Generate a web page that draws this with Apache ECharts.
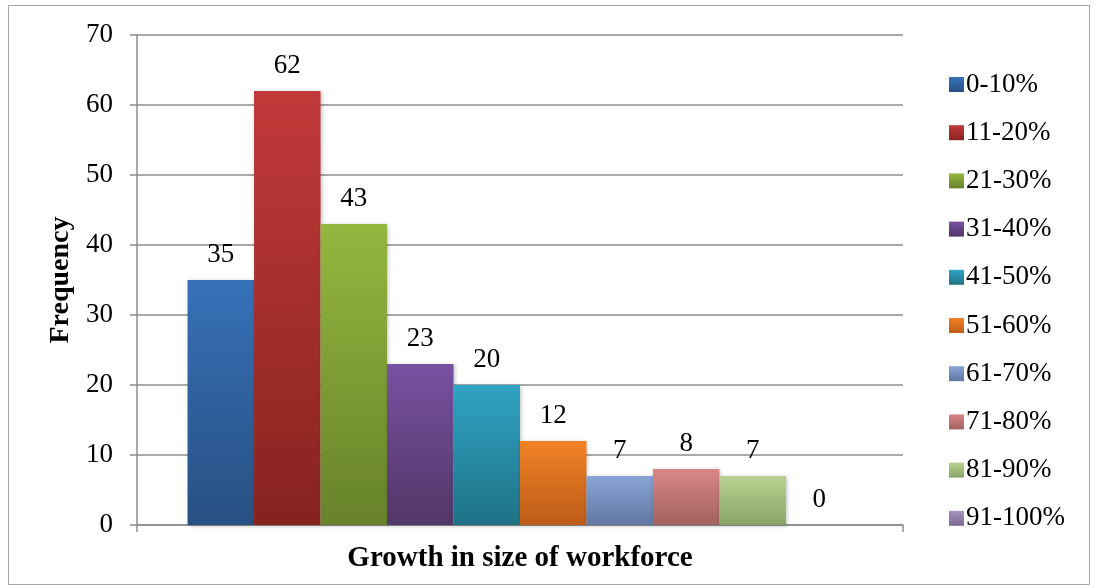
<!DOCTYPE html>
<html>
<head>
<meta charset="utf-8">
<script src="https://cdn.jsdelivr.net/npm/echarts@6/dist/echarts.min.js"></script>
<style>
  html, body { margin: 0; padding: 0; background: #ffffff; }
  #chart { width: 1096px; height: 588px; }
</style>
</head>
<body>
<div id="chart"></div>
<script>
// Frequency of growth in workforce size, by growth band
const bands = ['0-10%', '11-20%', '21-30%', '31-40%', '41-50%', '51-60%', '61-70%', '71-80%', '81-90%', '91-100%'];
const frequencies = [35, 62, 43, 23, 20, 12, 7, 8, 7, 0];
const yTicks = { min: 0, max: 70, step: 10 };

// Top / bottom shades for each band's gradient fill
const topShades = ['#3671b8', '#c2393a', '#94b73f', '#7851a2', '#2fa3c3', '#f28125', '#88a4d6', '#d98786', '#b9d290', '#a893c4'];
const bottomShades = ['#284f82', '#86231f', '#67822a', '#513766', '#1e7286', '#bd5d18', '#6277a2', '#a26260', '#89a368', '#7a6a8f'];

const serif = "'Liberation Serif', 'Times New Roman', serif";

const series = bands.map((name, i) => ({
  name: name,
  type: 'bar',
  data: [frequencies[i]],
  barGap: '0%',
  barCategoryGap: '13.2%',
  itemStyle: {
    color: new echarts.graphic.LinearGradient(0, 0, 0, 1, [
      { offset: 0, color: topShades[i] },
      { offset: 1, color: bottomShades[i] }
    ]),
    shadowColor: 'rgba(0,0,0,0.25)',
    shadowBlur: 4,
    shadowOffsetX: 1,
    shadowOffsetY: 1
  },
  label: {
    show: true,
    position: 'top',
    distance: 12,
    color: '#000',
    fontFamily: serif,
    fontSize: 27
  }
}));

const chart = echarts.init(document.getElementById('chart'), null, { renderer: 'canvas' });
chart.setOption({
  animation: false,
  backgroundColor: '#ffffff',
  graphic: [{
    type: 'rect',
    shape: { x: 8.5, y: 5.5, width: 1081, height: 579 },
    style: { fill: 'none', stroke: '#a6a6a6', lineWidth: 1 },
    silent: true
  }],
  grid: { left: 137, right: 193, top: 35, bottom: 63 },
  legend: {
    orient: 'vertical',
    left: 944,
    top: 66,
    itemWidth: 15,
    itemHeight: 15,
    itemGap: 21.2,
    icon: 'rect',
    textStyle: { color: '#000', fontFamily: serif, fontSize: 27, lineHeight: 27, padding: [0, 0, 0, -3] },
    data: bands
  },
  xAxis: {
    type: 'category',
    data: [''],
    name: 'Growth in size of workforce',
    nameLocation: 'middle',
    nameGap: 19,
    nameTextStyle: { color: '#000', fontFamily: serif, fontSize: 29, fontWeight: 'bold' },
    axisLine: { lineStyle: { color: '#8c8c8c', width: 1.5 } },
    axisTick: { show: true, length: 7, lineStyle: { color: '#8c8c8c', width: 1.5 } },
    axisLabel: { show: false }
  },
  yAxis: {
    type: 'value',
    min: yTicks.min,
    max: yTicks.max,
    interval: yTicks.step,
    name: 'Frequency',
    nameLocation: 'middle',
    nameGap: 61,
    nameTextStyle: { color: '#000', fontFamily: serif, fontSize: 28, fontWeight: 'bold' },
    axisLine: { show: true, lineStyle: { color: '#8c8c8c', width: 1.5 } },
    axisTick: { show: true, length: 7, lineStyle: { color: '#8c8c8c', width: 1.5 } },
    axisLabel: { color: '#000', fontFamily: serif, fontSize: 27, margin: 24 },
    splitLine: { lineStyle: { color: '#8c8c8c', width: 1.5 } }
  },
  series: series
});
</script>
</body>
</html>
